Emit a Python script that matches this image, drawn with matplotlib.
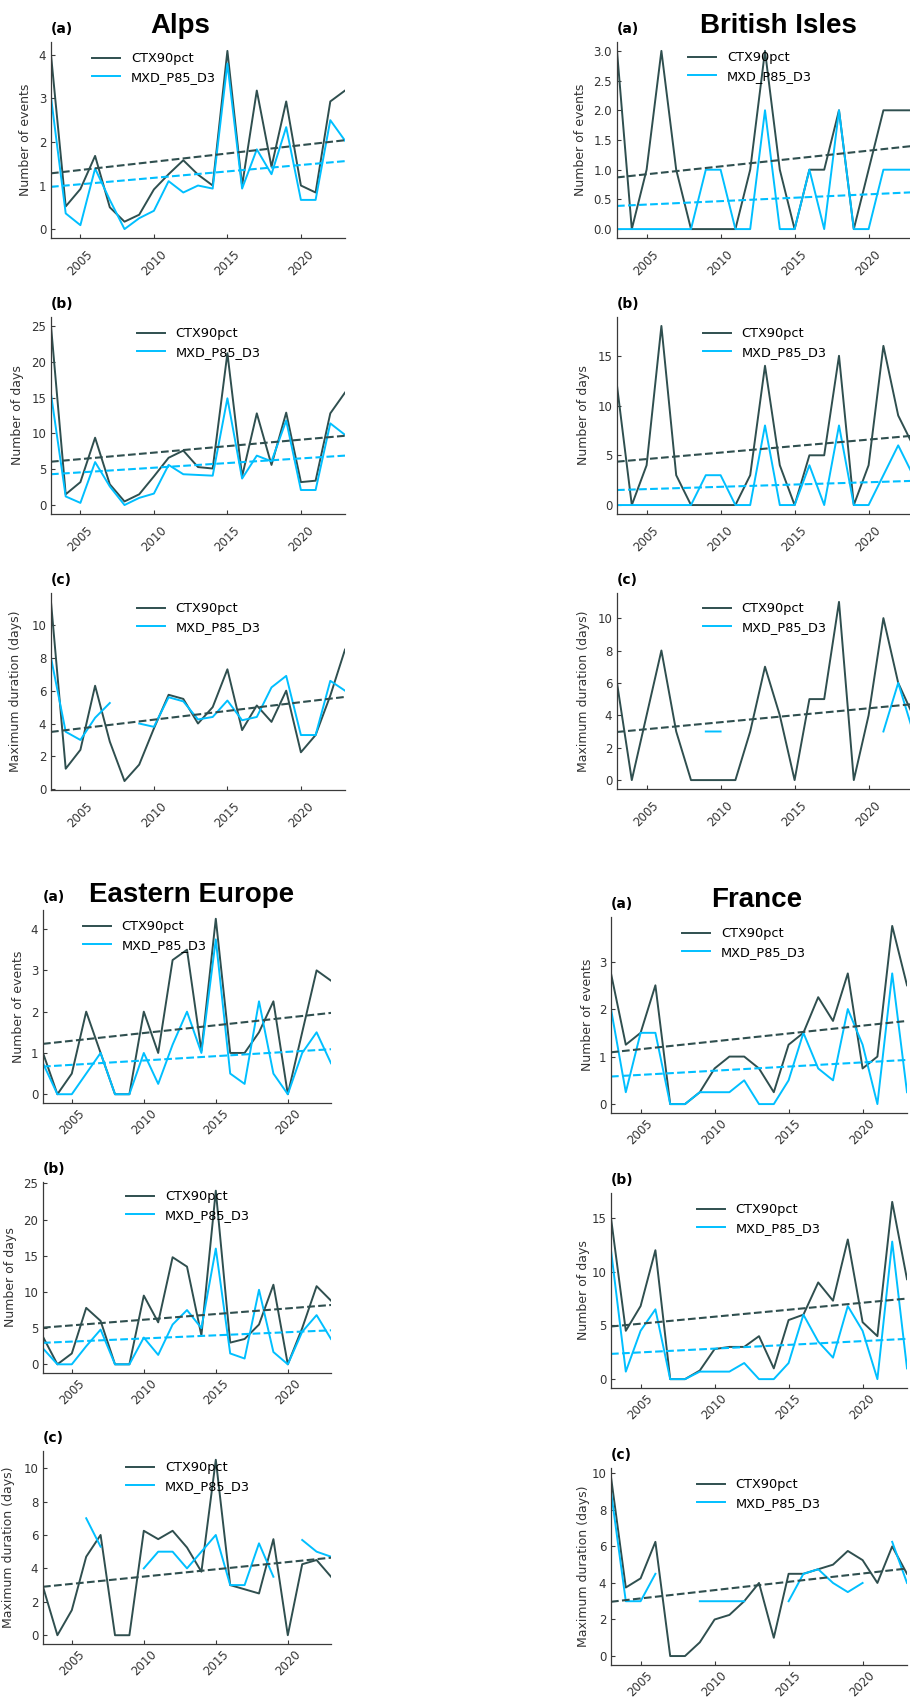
import numpy as np
import matplotlib
matplotlib.use('Agg')
import matplotlib.pyplot as plt
from matplotlib.ticker import MultipleLocator, FormatStrFormatter
from matplotlib.transforms import offset_copy

nan = np.nan

# ===================== DONNÉES =====================
years = list(range(2003, 2024))
series_names = ['CTX90pct', 'MXD_P85_D3']
panel_letters = ['(a)', '(b)', '(c)']
panel_ylabels = ['Number of events', 'Number of days', 'Maximum duration (days)']
xtick_years = [2005, 2010, 2015, 2020]

# Alps
alps_events_ctx = [4.0, 0.52, 0.92, 1.68, 0.5, 0.17, 0.33, 0.91, 1.26, 1.58, 1.25,
                   1.0, 4.09, 1.0, 3.18, 1.43, 2.93, 1.0, 0.84, 2.93, 3.18]
alps_events_mxd = [3.03, 0.36, 0.09, 1.39, 0.67, 0.0, 0.25, 0.42, 1.1, 0.84, 1.0,
                   0.93, 3.8, 0.93, 1.83, 1.26, 2.34, 0.67, 0.67, 2.5, 2.03]
alps_days_ctx = [25, 1.5, 3.2, 9.4, 2.9, 0.5, 1.5, 4.0, 6.6, 7.6, 5.3,
                 5.1, 21.2, 4.0, 12.8, 5.6, 12.9, 3.2, 3.4, 12.8, 15.7]
alps_days_mxd = [15.5, 1.2, 0.3, 6.0, 2.6, 0.0, 1.0, 1.6, 5.6, 4.3, 4.2,
                 4.1, 14.9, 3.7, 6.9, 6.1, 11.8, 2.1, 2.1, 11.4, 9.8]
alps_dur_ctx = [11.4, 1.25, 2.4, 6.3, 2.9, 0.5, 1.5, 3.7, 5.75, 5.5, 4.0,
                5.0, 7.3, 3.6, 5.1, 4.1, 6.0, 2.25, 3.3, 5.7, 8.5]
alps_dur_mxd = [8.0, 3.5, 3.0, 4.35, 5.25, nan, 4.0, 3.8, 5.6, 5.35, 4.25,
                4.4, 5.4, 4.2, 4.4, 6.2, 6.9, 3.3, 3.3, 6.6, 6.0]
# tendances (valeur en 2003, valeur en 2023), None = pas de tendance
alps_trend_ctx = [(1.28, 2.04), (6.05, 9.67), (3.49, 5.62)]
alps_trend_mxd = [(0.97, 1.56), (4.3, 6.9), None]

# British Isles
bi_events_ctx = [3, 0, 1, 3, 1, 0, 0, 0, 0, 1, 3, 1, 0, 1, 1, 2, 0, 1, 2, 2, 2]
bi_events_mxd = [0, 0, 0, 0, 0, 0, 1, 1, 0, 0, 2, 0, 0, 1, 0, 2, 0, 0, 1, 1, 1]
bi_days_ctx = [12, 0, 4, 18, 3, 0, 0, 0, 0, 3, 14, 4, 0, 5, 5, 15, 0, 4, 16, 9, 6]
bi_days_mxd = [0, 0, 0, 0, 0, 0, 3, 3, 0, 0, 8, 0, 0, 4, 0, 8, 0, 0, 3, 6, 3]
bi_dur_ctx = [6, 0, 4, 8, 3, 0, 0, 0, 0, 3, 7, 4, 0, 5, 5, 11, 0, 4, 10, 6, 4]
bi_dur_mxd = [nan, nan, nan, nan, nan, nan, 3, 3, nan, nan, nan, nan, nan, nan,
              nan, nan, nan, nan, 3, 6, 3]
bi_trend_ctx = [(0.87, 1.40), (4.36, 6.97), (2.97, 4.69)]
bi_trend_mxd = [(0.39, 0.62), (1.51, 2.43), None]

# Eastern Europe
ee_events_ctx = [1.0, 0, 0.5, 2.0, 1.0, 0, 0, 2.0, 1.0, 3.25, 3.5,
                 1.05, 4.25, 1.0, 1.0, 1.5, 2.25, 0, 1.5, 3.0, 2.75]
ee_events_mxd = [0.75, 0, 0, 0.5, 1.0, 0, 0, 1.0, 0.25, 1.2, 2.0,
                 1.0, 3.75, 0.5, 0.25, 2.25, 0.5, 0, 1.0, 1.5, 0.75]
ee_days_ctx = [3.8, 0, 1.5, 7.8, 6.0, 0, 0, 9.5, 5.8, 14.8, 13.5,
               4.0, 24, 3.0, 3.5, 5.5, 11, 0, 5.0, 10.8, 8.8]
ee_days_mxd = [2.2, 0, 0, 2.5, 4.8, 0, 0, 3.7, 1.3, 5.5, 7.5,
               5.0, 16, 1.5, 0.8, 10.3, 1.7, 0, 4.5, 6.8, 3.5]
ee_dur_ctx = [2.9, 0, 1.5, 4.7, 6.0, 0, 0, 6.25, 5.75, 6.25, 5.25,
              3.8, 10.5, 3.0, 2.75, 2.5, 5.75, 0, 4.25, 4.5, 3.5]
ee_dur_mxd = [nan, nan, nan, 7.0, 5.3, nan, nan, 4.0, 5.0, 5.0, 4.0,
              5.0, 6.0, 3.0, 3.0, 5.5, 3.5, nan, 5.7, 5.0, 4.7]
ee_trend_ctx = [(1.22, 1.97), (5.07, 8.2), (2.9, 4.64)]
ee_trend_mxd = [(0.67, 1.09), (2.97, 4.7), None]

# France
fr_events_ctx = [2.75, 1.25, 1.5, 2.5, 0, 0, 0.25, 0.75, 1.0, 1.0, 0.75,
                 0.25, 1.25, 1.5, 2.25, 1.75, 2.75, 0.75, 1.0, 3.75, 2.5]
fr_events_mxd = [2.0, 0.25, 1.5, 1.5, 0, 0, 0.25, 0.25, 0.25, 0.5, 0,
                 0, 0.5, 1.5, 0.75, 0.5, 2.0, 1.25, 0, 2.75, 0.25]
fr_days_ctx = [15, 4.5, 6.8, 12, 0, 0, 0.8, 2.8, 3.0, 3.0, 4.0,
               1.0, 5.5, 6.0, 9.0, 7.3, 13, 5.3, 4.0, 16.5, 9.3]
fr_days_mxd = [12, 0.7, 4.5, 6.5, 0, 0, 0.7, 0.7, 0.7, 1.5, 0,
               0, 1.5, 6.0, 3.5, 2.0, 6.8, 4.5, 0, 12.8, 1.0]
fr_dur_ctx = [9.8, 3.75, 4.25, 6.25, 0, 0, 0.75, 2.0, 2.25, 3.0, 4.0,
              1.0, 4.5, 4.5, 4.75, 5.0, 5.75, 5.25, 4.0, 6.0, 4.5]
fr_dur_mxd = [9.0, 3.0, 3.0, 4.5, nan, nan, 3.0, 3.0, 3.0, 3.0, nan,
              nan, 3.0, 4.5, 4.75, 4.0, 3.5, 4.0, nan, 6.25, 4.0]
fr_trend_ctx = [(1.09, 1.75), (4.9, 7.5), (2.97, 4.79)]
fr_trend_mxd = [(0.58, 0.93), (2.35, 3.75), None]

# ===================== MISE EN PAGE (pixels) =====================
W, H = 910, 1700
DARK = '#2F4F4F'
CYAN = '#00BFFF'

regions = [
    dict(name='Alps', title_xy=(180, 33), x=(51, 345),
         rows=[(42, 238), (317, 514), (593, 790)],
         legend=[(92, 68), (137, 343), (137, 618)],
         ylab_x=[25, 17, 15], steps=[1, 5, 2], fmt=['%d', '%d', '%d'], xpad=7,
         data=[(alps_events_ctx, alps_events_mxd), (alps_days_ctx, alps_days_mxd),
               (alps_dur_ctx, alps_dur_mxd)],
         trends=(alps_trend_ctx, alps_trend_mxd)),
    dict(name='British Isles', title_xy=(778, 33), x=(617, 913),
         rows=[(42, 238), (317, 514), (593, 789)],
         legend=[(688, 67), (703, 343), (703, 618)],
         ylab_x=[580, 583, 583], steps=[0.5, 5, 2], fmt=['%.1f', '%d', '%d'], xpad=7,
         data=[(bi_events_ctx, bi_events_mxd), (bi_days_ctx, bi_days_mxd),
               (bi_dur_ctx, bi_dur_mxd)],
         trends=(bi_trend_ctx, bi_trend_mxd)),
    dict(name='Eastern Europe', title_xy=(192, 902), x=(43, 331),
         rows=[(910, 1103), (1182, 1373), (1451, 1644)],
         legend=[(83, 936), (126, 1206), (126, 1477)],
         ylab_x=[18, 10, 8], steps=[1, 5, 2], fmt=['%d', '%d', '%d'], xpad=3,
         data=[(ee_events_ctx, ee_events_mxd), (ee_days_ctx, ee_days_mxd),
               (ee_dur_ctx, ee_dur_mxd)],
         trends=(ee_trend_ctx, ee_trend_mxd)),
    dict(name='France', title_xy=(757, 907), x=(611, 907),
         rows=[(917, 1113), (1193, 1388), (1468, 1665)],
         legend=[(682, 943), (697, 1219), (697, 1494)],
         ylab_x=[587, 583, 583], steps=[1, 5, 2], fmt=['%d', '%d', '%d'], xpad=3,
         data=[(fr_events_ctx, fr_events_mxd), (fr_days_ctx, fr_days_mxd),
               (fr_dur_ctx, fr_dur_mxd)],
         trends=(fr_trend_ctx, fr_trend_mxd)),
]

plt.rcParams.update({
    'font.family': 'DejaVu Sans',
    'axes.edgecolor': '#3a3a3a',
    'axes.linewidth': 0.9,
    'xtick.color': '#3a3a3a',
    'ytick.color': '#3a3a3a',
    'xtick.labelcolor': '#333333',
    'ytick.labelcolor': '#333333',
})

fig = plt.figure(figsize=(W / 100, H / 100), dpi=100)
fig.patch.set_facecolor('white')


def add_ax(left, top, right, bottom):
    return fig.add_axes([left / W, 1 - bottom / H, (right - left) / W, (bottom - top) / H])


for reg in regions:
    fig.text(reg['title_xy'][0] / W, 1 - reg['title_xy'][1] / H, reg['name'],
             ha='center', va='baseline', fontsize=20, fontweight='bold',
             family='Liberation Sans', color='black')
    x0, x1 = reg['x']
    for i, (top, bottom) in enumerate(reg['rows']):
        ax = add_ax(x0, top, x1, bottom)
        ctx, mxd = reg['data'][i]
        ax.plot(years, ctx, color=DARK, lw=1.4, label=series_names[0])
        ax.plot(years, mxd, color=CYAN, lw=1.4, label=series_names[1])

        # tendances linéaires
        for tr, c in [(reg['trends'][0][i], DARK), (reg['trends'][1][i], CYAN)]:
            if tr is not None:
                ax.plot([years[0], years[-1]], tr, '--', color=c, lw=1.5)

        ax.set_xlim(years[0], years[-1])
        ax.margins(x=0, y=0.05)
        ax.spines['top'].set_visible(False)
        ax.spines['right'].set_visible(False)
        ax.set_xticks(xtick_years)
        ax.yaxis.set_major_locator(MultipleLocator(reg['steps'][i]))
        ax.yaxis.set_major_formatter(FormatStrFormatter(reg['fmt'][i]))
        ax.tick_params(axis='both', direction='in', length=3, width=0.8, labelsize=8.5)
        ax.tick_params(axis='y', pad=3.5)
        ax.tick_params(axis='x', labelrotation=45, pad=reg['xpad'])

        ax.set_ylabel(panel_ylabels[i], fontsize=9, color='#333333')
        ax.yaxis.set_label_coords((reg['ylab_x'][i] + 7) / W, 1 - (top + bottom) / 2 / H,
                                  transform=fig.transFigure)

        trans = offset_copy(ax.transAxes, fig=fig, x=0, y=9, units='dots')
        ax.text(0, 1, panel_letters[i], transform=trans, ha='left', va='baseline',
                fontsize=10, fontweight='bold', color='black')

        lx, ly = reg['legend'][i]
        ax.legend(loc='center left', bbox_to_anchor=(lx / W, 1 - ly / H),
                  bbox_transform=fig.transFigure, frameon=False, borderpad=0,
                  borderaxespad=0, handlelength=2.2, handletextpad=0.8,
                  labelspacing=0.45, fontsize=9.3)

plt.savefig('out.png', dpi=100)
plt.close()
